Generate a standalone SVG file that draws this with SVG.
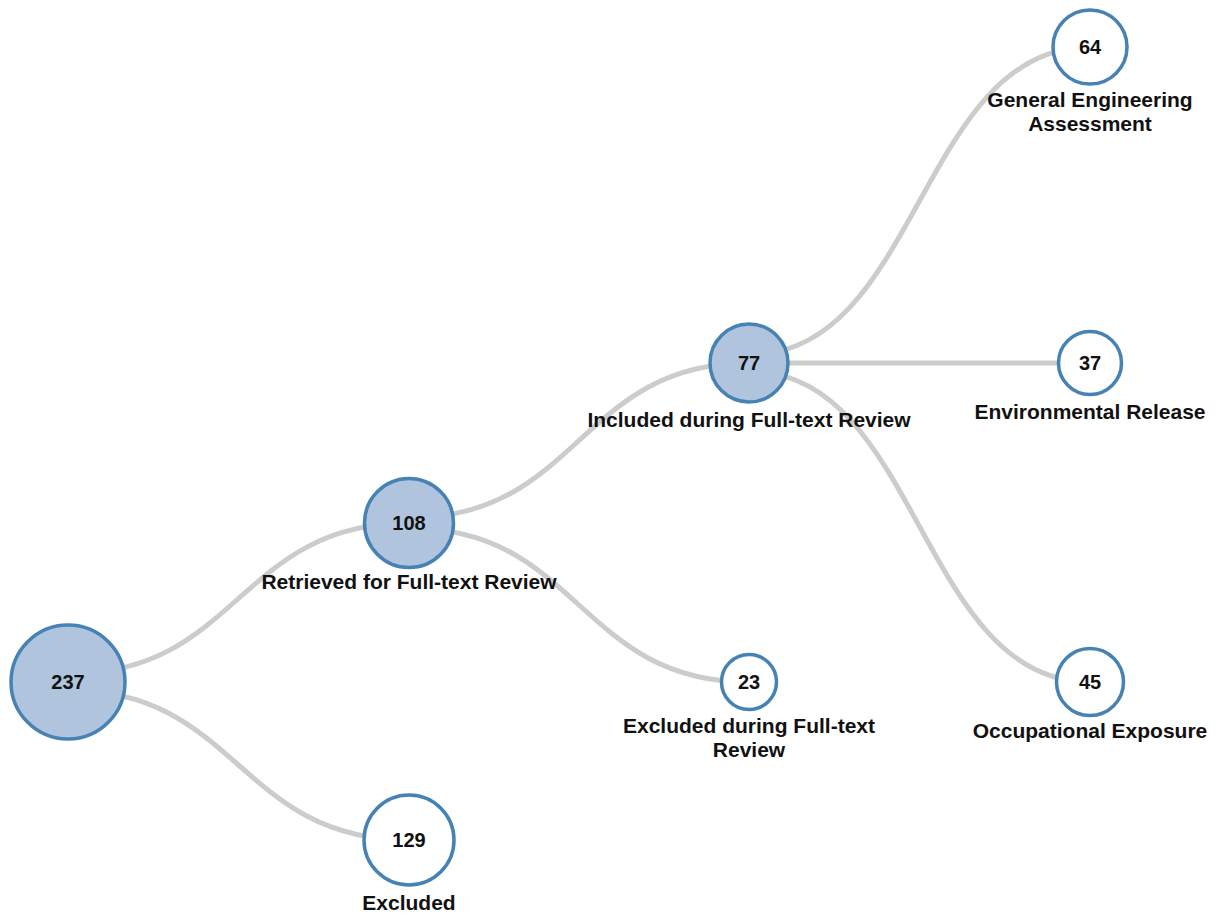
<svg xmlns="http://www.w3.org/2000/svg" width="1220" height="915" viewBox="0 0 1220 915">
<style>
.link{fill:none;stroke:#cccccc;stroke-width:5}
.inner{fill:#b0c4de;stroke:#4682b4;stroke-width:3.5}
.leaf{fill:#ffffff;stroke:#4682b4;stroke-width:3.5}
text{font-family:"Liberation Sans",Arial,sans-serif;font-weight:bold;font-size:21px;fill:#111;text-anchor:middle}
text.num{font-size:20px}
</style>
<rect width="1220" height="915" fill="#ffffff"/>
<g id="links">
<path class="link" d="M68,674 C238.5,674 238.5,523 409,523"/>
<path class="link" d="M68,690 C238.5,690 238.5,840 409,840"/>
<path class="link" d="M409,518 C579,518 579,363 749,363"/>
<path class="link" d="M409,528 C579,528 579,682 749,682"/>
<path class="link" d="M749,355 C919.5,355 919.5,47 1090,47"/>
<path class="link" d="M749,363 L1090,363"/>
<path class="link" d="M749,371 C919.5,371 919.5,682 1090,682"/>
</g>
<g id="n237"><circle class="inner" cx="68" cy="682" r="57"/><text class="num" x="68" y="689">237</text></g>
<g id="n108"><circle class="inner" cx="409" cy="523" r="44.5"/><text class="num" x="409" y="530">108</text><text x="409" y="589">Retrieved for Full-text Review</text></g>
<g id="n129"><circle class="leaf" cx="409" cy="840" r="45"/><text class="num" x="409" y="847">129</text><text x="409" y="910">Excluded</text></g>
<g id="n77"><circle class="inner" cx="749" cy="363" r="39"/><text class="num" x="749" y="370">77</text><text x="749" y="427">Included during Full-text Review</text></g>
<g id="n23"><circle class="leaf" cx="749" cy="682" r="27.5"/><text class="num" x="749" y="689">23</text><text x="749" y="733">Excluded during Full-text</text><text x="749" y="757">Review</text></g>
<g id="n64"><circle class="leaf" cx="1090" cy="47" r="37"/><text class="num" x="1090" y="54">64</text><text x="1090" y="107">General Engineering</text><text x="1090" y="131">Assessment</text></g>
<g id="n37"><circle class="leaf" cx="1090" cy="363" r="31.5"/><text class="num" x="1090" y="370">37</text><text x="1090" y="419">Environmental Release</text></g>
<g id="n45"><circle class="leaf" cx="1090" cy="682" r="33.5"/><text class="num" x="1090" y="689">45</text><text x="1090" y="738">Occupational Exposure</text></g>
</svg>
